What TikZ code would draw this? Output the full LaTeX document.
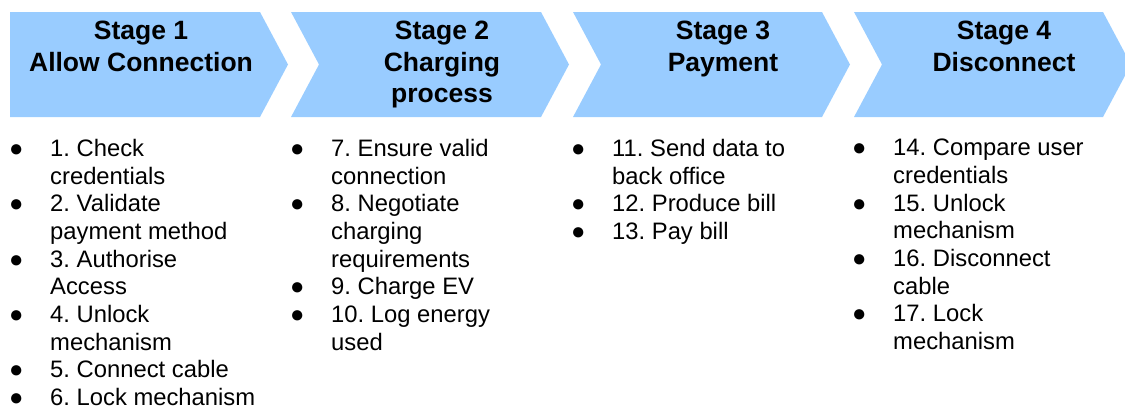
\documentclass[tikz,border=0pt]{standalone}
\usepackage{fontspec}
\setmainfont{Liberation Sans}
\usepackage{tikz}
\frenchspacing
\definecolor{stageblue}{HTML}{99CCFF}
\tikzset{
    %Define style for the stage arrows
    stagearrow/.style={
           fill=stageblue,
           draw=none},
    %Define style for the stage titles
    stagetitle/.style={
           anchor=north,
           inner sep=0pt,
           align=center,
           font=\fontsize{26.5}{31.5}\selectfont\bfseries},
    % Define style for the lists of steps
    steplist/.style={
           anchor=north west,
           inner sep=0pt,
           align=left,
           font=\fontsize{23.8}{27.67}\selectfont}
}
\newcommand\stepbul{\makebox[40pt][l]{\makebox[12pt]{●}}}
\newcommand\stepind{\makebox[40pt]{}}

\begin{document}
\begin{tikzpicture}[x=1pt,y=-1pt]
\useasboundingbox (0,0) rectangle (1125,407);
% stage arrows
\fill[stagearrow] (10,12) -- (260,12) -- (288,64.5) -- (260,117) -- (10,117) -- cycle;
\fill[stagearrow] (291,12) -- (541,12) -- (569,64.5) -- (541,117) -- (291,117) -- (319,64.5) -- cycle;
\fill[stagearrow] (573,12) -- (822,12) -- (850,64.5) -- (822,117) -- (573,117) -- (601,64.5) -- cycle;
\fill[stagearrow] (854,12) -- (1103,12) -- (1131,64.5) -- (1103,117) -- (854,117) -- (882,64.5) -- cycle;

\node[stagetitle](stage1) at (141,21){Stage 1\\Allow Connection};
\node[stagetitle](stage2) at (442,21){Stage 2\\Charging\\process};
\node[stagetitle](stage3) at (723,21){Stage 3\\Payment};
\node[stagetitle](stage4) at (1004,21){Stage 4\\Disconnect};

\node[steplist](steps1) at (10,139){\stepbul 1. Check\\ \stepind credentials\\
	\stepbul 2. Validate\\ \stepind payment method\\
	\stepbul 3. Authorise\\ \stepind Access\\
	\stepbul 4. Unlock\\ \stepind mechanism\\
	\stepbul 5. Connect cable\\
	\stepbul 6. Lock mechanism};
\node[steplist](steps2) at (291,139){\stepbul 7. Ensure valid\\ \stepind connection\\
	\stepbul 8. Negotiate\\ \stepind charging\\ \stepind requirements\\
	\stepbul 9. Charge EV\\
	\stepbul 10. Log energy\\ \stepind used};
\node[steplist](steps3) at (572,139){\stepbul 11. Send data to\\ \stepind back office\\
	\stepbul 12. Produce bill\\
	\stepbul 13. Pay bill};
\node[steplist](steps4) at (853,139){\stepbul 14. Compare user\\ \stepind credentials\\
	\stepbul 15. Unlock\\ \stepind mechanism\\
	\stepbul 16. Disconnect\\ \stepind cable\\
	\stepbul 17. Lock\\ \stepind mechanism};
\end{tikzpicture}
\end{document}
